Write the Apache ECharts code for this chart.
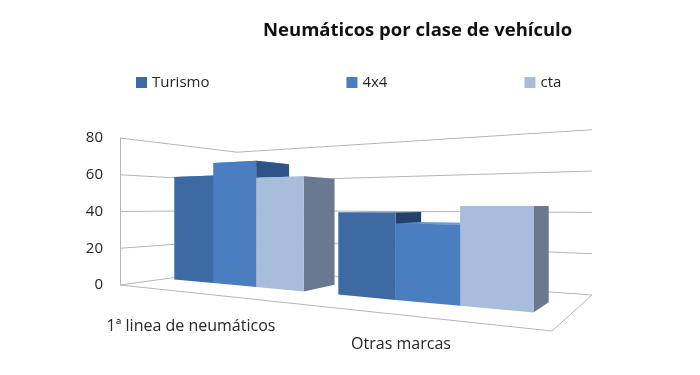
<!DOCTYPE html>
<html>
<head>
<meta charset="utf-8">
<script src="https://cdn.jsdelivr.net/npm/echarts@6/dist/echarts.min.js"></script>
<style>
  html, body { margin: 0; padding: 0; background: #fff; }
  #chart { width: 700px; height: 375px; }
</style>
</head>
<body>
<div id="chart"></div>
<script>
const categories = ['1ª linea de neumáticos', 'Otras marcas'];
const seriesNames = ['Turismo', '4x4', 'cta'];
const turismo = [60, 40];
const cuatroPorCuatro = [67, 35];
const cta = [58, 43];
const yTicks = [0, 20, 40, 60, 80];

const frontColors = ['#3d6aa3', '#4a7ec0', '#a8bcdc'];
const sideColors = ['#22426c', '#2e5487', '#6b7990'];
const topColors = ['#5b86bd', '#6d98d0', '#c3d1e8'];

// floor corners (px), the front-left one is the grid's bottom-left
const floorBL = [237, 269], floorBR = [592, 295], floorFR = [552, 331];
const depthFront = 0.34, depthBack = 0.65;
const barU = 0.1365, groupShift = -0.0145;

// unit square -> floor quad, with vertical heights shrinking with depth
function quadMap (p0, p1, p2, p3) {
  const dx1 = p1[0] - p2[0], dx2 = p3[0] - p2[0], dx3 = p0[0] - p1[0] + p2[0] - p3[0];
  const dy1 = p1[1] - p2[1], dy2 = p3[1] - p2[1], dy3 = p0[1] - p1[1] + p2[1] - p3[1];
  const den = dx1 * dy2 - dx2 * dy1;
  const g = (dx3 * dy2 - dx2 * dy3) / den;
  const h = (dx1 * dy3 - dx3 * dy1) / den;
  const a = p1[0] - p0[0] + g * p1[0], b = p3[0] - p0[0] + h * p3[0], c = p0[0];
  const d = p1[1] - p0[1] + g * p1[1], e = p3[1] - p0[1] + h * p3[1], f = p0[1];
  return function (u, w, hpx) {
    const D = g * u + h * w + 1;
    return [(a * u + b * w + c) / D, (d * u + e * w + f) / D - hpx / D];
  };
}

function floorMap (cs) {
  return quadMap([cs.x, cs.y + cs.height], floorFR, floorBR, floorBL);
}

function barRenderer (s) {
  return function (params, api) {
    const cs = params.coordSys;
    const P = floorMap(cs);
    const cat = api.value(0);
    const top = api.coord([cat, api.value(1)]);
    const hpx = api.coord([cat, 0])[1] - top[1];
    const uc = (top[0] - cs.x) / cs.width + groupShift;
    const u0 = uc + (s - 1.5) * barU;
    const u1 = u0 + barU;
    const order = (cat * seriesNames.length + s) * 3 + 10;
    return {
      type: 'group',
      children: [
        {
          type: 'polygon', z2: order,
          shape: { points: [P(u0, depthFront, hpx), P(u1, depthFront, hpx), P(u1, depthBack, hpx), P(u0, depthBack, hpx)] },
          style: { fill: topColors[s] }
        },
        {
          type: 'polygon', z2: order + 1,
          shape: { points: [P(u1, depthFront, 0), P(u1, depthBack, 0), P(u1, depthBack, hpx), P(u1, depthFront, hpx)] },
          style: { fill: sideColors[s] }
        },
        {
          type: 'polygon', z2: order + 2,
          shape: { points: [P(u0, depthFront, 0), P(u1, depthFront, 0), P(u1, depthFront, hpx), P(u0, depthFront, hpx)] },
          style: { fill: frontColors[s] }
        }
      ]
    };
  };
}

function wallRenderer (params, api) {
  const cs = params.coordSys;
  const P = floorMap(cs);
  const v = api.value(1);
  const hpx = api.coord([0, 0])[1] - api.coord([0, v])[1];
  const line = { stroke: '#b4b4b4', lineWidth: 1, fill: null };
  const children = [{
    type: 'polyline',
    shape: { points: [P(0, 0, hpx), P(0, 1, hpx), P(1, 1, hpx)] },
    style: line
  }];
  if (v === yTicks[0]) {
    children.push({
      type: 'polyline',
      shape: { points: [P(0, 0, 0), P(1, 0, 0), P(1, 1, 0)] },
      style: line
    });
  }
  return { type: 'group', children: children };
}

const values = [turismo, cuatroPorCuatro, cta];

const chart = echarts.init(document.getElementById('chart'));
chart.setOption({
  animation: false,
  textStyle: { fontFamily: 'Open Sans' },
  title: {
    text: 'Neumáticos por clase de vehículo',
    left: 263,
    top: 21,
    padding: 0,
    textStyle: { fontSize: 18.5, fontWeight: 'bold', color: '#111', fontFamily: 'Open Sans' }
  },
  legend: {
    data: seriesNames,
    left: 136,
    top: 75,
    padding: 0,
    itemWidth: 11,
    itemHeight: 11,
    itemGap: 137,
    icon: 'rect',
    textStyle: { fontSize: 15, color: '#262626' }
  },
  grid: { left: 120, right: 108, top: 138, bottom: 90 },
  xAxis: {
    type: 'category',
    data: categories,
    axisLine: { show: false },
    axisTick: { show: false },
    axisLabel: {
      margin: 33,
      interval: 0,
      formatter: function (value, index) {
        return index === 0 ? '{a|' + value + '}' : '{b|' + value + '}';
      },
      rich: {
        a: { fontSize: 16, color: '#262626', padding: [0, 94, 0, 0] },
        b: { fontSize: 16, color: '#262626', padding: [18, 146, 0, 0] }
      }
    }
  },
  yAxis: {
    type: 'value',
    min: 0,
    max: 80,
    interval: 20,
    axisLine: { show: true, lineStyle: { color: '#b4b4b4' } },
    axisTick: { show: false },
    splitLine: { show: false },
    axisLabel: { margin: 17, fontSize: 15, color: '#262626' }
  },
  series: [{
    type: 'custom',
    silent: true,
    z: 1,
    data: yTicks.map(v => [0, v]),
    renderItem: wallRenderer
  }].concat(seriesNames.map((name, s) => ({
    name: name,
    type: 'custom',
    itemStyle: { color: frontColors[s] },
    data: values[s].map((v, i) => [i, v]),
    renderItem: barRenderer(s)
  })))
});
</script>
</body>
</html>
